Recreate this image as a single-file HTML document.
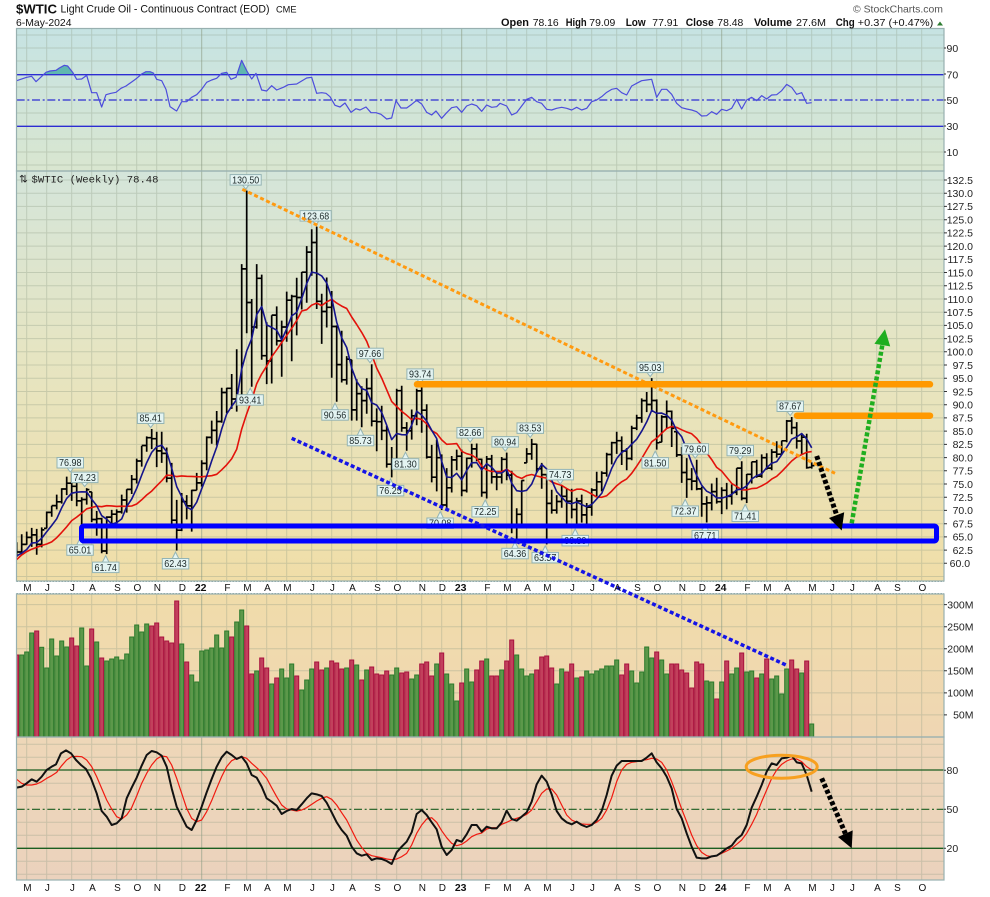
<!DOCTYPE html>
<html><head><meta charset="utf-8"><title>$WTIC Light Crude Oil</title>
<style>
html,body{margin:0;padding:0;background:#fff;width:990px;height:897px;overflow:hidden}
svg{display:block;font-family:"Liberation Sans","DejaVu Sans",sans-serif}
</style></head><body>
<svg id="c" xmlns="http://www.w3.org/2000/svg" width="990" height="897" viewBox="0 0 990 897">
<defs>
<linearGradient id="gR" x1="0" y1="0" x2="0" y2="1"><stop offset="0" stop-color="#c6e3e3"/><stop offset="1" stop-color="#d9e6d0"/></linearGradient>
<linearGradient id="gP" x1="0" y1="0" x2="0" y2="1"><stop offset="0" stop-color="#d4e5da"/><stop offset="0.45" stop-color="#e6e5c2"/><stop offset="1" stop-color="#f0dea8"/></linearGradient>
<linearGradient id="gV" x1="0" y1="0" x2="0" y2="1"><stop offset="0" stop-color="#f0dcaa"/><stop offset="1" stop-color="#efd6b3"/></linearGradient>
<linearGradient id="gS" x1="0" y1="0" x2="0" y2="1"><stop offset="0" stop-color="#eed7b8"/><stop offset="1" stop-color="#ebd2bd"/></linearGradient>
<clipPath id="cP"><rect x="16.5" y="171" width="927.5" height="410"/></clipPath>
<clipPath id="cV"><rect x="16.5" y="594" width="927.5" height="143"/></clipPath>
<clipPath id="cF"><rect x="0" y="0" width="3000" height="224"/></clipPath>
</defs>

<!-- panel backgrounds -->
<rect x="16.5" y="28.5" width="927.5" height="142.5" fill="url(#gR)"/>
<rect x="16.5" y="171" width="927.5" height="410" fill="url(#gP)"/>
<rect x="16.5" y="594" width="927.5" height="143" fill="url(#gV)"/>
<rect x="16.5" y="737" width="927.5" height="143" fill="url(#gS)"/>

<g id="grid" stroke="#8c9c84" stroke-opacity="0.35" stroke-width="1" fill="none"></g>

<!-- RSI -->
<g transform="scale(0.3333333)">
<path clip-path="url(#cF)" fill="#5fb7b0" d="M50,224 L50,242 80,232 95,229 108,245 138,217 150,213 168,211 178,204 193,196 203,198 218,217 230,238 245,237 260,226 275,278 290,278 305,321 318,284 333,280 348,277 363,265 378,258 395,246 410,235 425,222 438,215 450,215 460,219 470,238 485,242 498,268 510,320 525,330 530,333 545,305 560,305 575,292 590,284 605,268 620,247 635,240 650,235 665,220 680,217 693,238 708,232 725,181 740,212 755,237 768,220 785,270 800,273 L800,224 Z"/>
<line x1="50" y1="224" x2="2832" y2="224" stroke="#2d2dd2" stroke-width="4"/>
<line x1="50" y1="379" x2="2832" y2="379" stroke="#2d2dd2" stroke-width="4"/>
<line x1="50" y1="300" x2="2832" y2="300" stroke="#2d2dd2" stroke-width="3.5" stroke-dasharray="24 8 6 8"/>
<polyline fill="none" stroke="#4d4ddc" stroke-width="3.6" stroke-linejoin="round" points="50,242 80,232 95,229 108,245 138,217 150,213 168,211 178,204 193,196 203,198 218,217 230,238 245,237 260,226 275,278 290,278 305,321 318,284 333,280 348,277 363,265 378,258 395,246 410,235 425,222 438,215 450,215 460,219 470,238 485,242 498,268 510,320 525,330 530,333 545,305 560,305 575,292 590,284 605,268 620,247 635,240 650,235 665,220 680,217 693,238 708,232 725,181 740,212 755,237 768,220 785,270 800,273 815,257 830,270 850,262 865,254 890,252 905,243 920,234 935,232 950,280 965,278 978,280 990,290 1005,316 1020,321 1035,309 1053,337 1068,326 1080,330 1098,321 1113,338 1128,338 1143,343 1160,357 1175,354 1188,302 1203,324 1220,324 1235,313 1250,301 1265,312 1280,337 1295,345 1308,333 1325,355 1340,338 1355,323 1370,320 1385,337 1400,318 1415,312 1430,317 1445,334 1460,315 1475,322 1490,320 1500,310 1520,318 1535,345 1550,338 1565,318 1580,298 1595,292 1610,305 1625,310 1640,328 1655,330 1670,325 1685,322 1700,325 1715,330 1730,322 1745,330 1760,325 1775,305 1790,300 1805,290 1820,277 1835,268 1850,265 1865,278 1880,285 1895,258 1910,250 1925,242 1940,240 1955,238 1970,292 1985,268 2000,268 2015,283 2030,310 2045,323 2060,327 2075,330 2090,335 2105,348 2120,347 2135,335 2150,343 2165,328 2180,332 2195,325 2210,298 2225,327 2240,300 2255,292 2270,302 2285,287 2300,297 2315,285 2330,284 2345,272 2360,253 2375,262 2390,283 2405,278 2420,310 2435,308"/>
</g>

<!-- Price -->
<g clip-path="url(#cP)">
<g id="bars"></g>
<g id="ma"></g>
</g>
<g id="callouts"></g>
<text x="19" y="182.5" font-size="10.5" font-family="'DejaVu Sans',sans-serif" fill="#222">⇅</text>
<text x="31.5" y="182.5" font-size="10.5" font-family="'Liberation Mono',monospace" fill="#222" textLength="127" lengthAdjust="spacingAndGlyphs">$WTIC (Weekly) 78.48</text>

<!-- Volume -->
<g id="vol" clip-path="url(#cV)"></g>

<!-- Stochastic -->
<g transform="translate(0,735) scale(0.3333333)">
<line x1="50" y1="105" x2="2832" y2="105" stroke="#1b5e20" stroke-width="4"/>
<line x1="50" y1="340" x2="2832" y2="340" stroke="#1b5e20" stroke-width="4"/>
<line x1="50" y1="223" x2="2832" y2="223" stroke="#1b5e20" stroke-width="3.5" stroke-dasharray="24 8 6 8"/>
<polyline fill="none" stroke="#f01a10" stroke-width="3.6" stroke-linejoin="round" points="50,133 65,145 80,150 95,150 110,147 125,140 140,130 155,122 170,112 185,92 200,75 215,65 230,64 245,65 260,75 275,95 290,125 305,160 320,195 335,222 350,245 365,252 380,240 395,218 410,183 425,145 440,115 455,90 470,72 485,63 500,65 515,90 530,130 545,175 560,220 575,250 590,260 605,255 620,230 635,197 650,160 665,125 680,95 695,77 710,70 725,65 740,70 755,85 770,98 785,112 800,130 815,158 830,185 845,210 860,222 875,225 890,228 905,225 920,218 935,208 950,198 965,190 980,185 995,193 1010,210 1025,233 1040,255 1055,285 1070,315 1085,337 1100,355 1115,362 1130,365 1145,368 1160,372 1175,374 1190,372 1205,365 1220,355 1235,330 1250,295 1265,270 1280,252 1295,248 1310,262 1325,287 1340,308 1355,325 1370,332 1385,328 1400,318 1415,305 1430,298 1445,294 1460,282 1475,278 1490,278 1505,268 1520,262 1535,255 1550,250 1565,245 1580,238 1595,225 1610,200 1625,175 1640,162 1655,162 1670,180 1685,210 1700,240 1715,255 1730,262 1745,267 1760,268 1775,268 1790,262 1805,250 1820,225 1835,188 1850,140 1865,105 1880,88 1895,82 1910,80 1925,76 1940,74 1955,70 1970,72 1985,82 2000,105 2015,140 2030,180 2045,222 2060,260 2075,300 2090,332 2105,352 2120,362 2135,365 2150,362 2165,355 2180,348 2195,340 2210,328 2225,315 2240,295 2255,268 2270,238 2285,200 2300,165 2315,130 2330,105 2345,88 2360,78 2375,72 2390,72 2405,80 2420,95 2435,105"/>
<polyline fill="none" stroke="#111" stroke-width="6" stroke-linejoin="round" points="50,158 65,155 80,145 95,133 110,140 125,125 140,105 155,95 168,88 183,55 198,46 213,55 228,75 243,90 258,102 273,130 290,175 305,228 320,245 335,270 350,265 365,250 380,190 395,158 410,128 425,92 440,60 455,48 470,52 485,62 500,95 515,160 530,215 545,245 560,275 575,285 590,255 605,215 620,172 635,132 650,95 665,67 680,50 695,60 710,72 725,65 740,85 755,120 770,128 785,155 800,190 815,200 830,212 845,237 860,228 875,222 890,225 905,208 920,190 935,175 950,178 965,183 980,203 995,232 1010,262 1025,285 1040,302 1055,335 1070,355 1085,362 1100,358 1115,375 1130,370 1145,372 1160,378 1175,387 1190,352 1205,335 1220,320 1235,292 1250,237 1265,225 1280,240 1295,262 1310,283 1325,335 1340,360 1355,345 1370,315 1385,320 1400,298 1415,270 1430,270 1445,290 1460,275 1475,280 1490,280 1505,262 1520,227 1535,252 1550,257 1565,245 1580,232 1595,200 1610,148 1625,122 1640,140 1655,178 1670,228 1685,250 1700,262 1715,268 1730,260 1745,270 1760,276 1775,270 1790,255 1805,228 1820,180 1835,122 1850,92 1865,78 1880,78 1895,78 1910,78 1925,78 1940,68 1955,55 1970,82 1985,100 2000,125 2015,160 2030,222 2045,250 2060,295 2075,335 2090,368 2105,370 2120,370 2135,364 2150,362 2165,352 2180,340 2195,332 2210,312 2225,300 2240,270 2255,218 2270,185 2285,150 2300,110 2315,85 2330,90 2345,70 2360,68 2375,62 2390,82 2405,85 2420,120 2435,170"/>
</g>

<!-- x-axis strips -->
<rect x="16.5" y="581" width="927.5" height="13" fill="#fff"/>
<line x1="16.5" y1="581.5" x2="944" y2="581.5" stroke="#8aa4a4" stroke-dasharray="1.5 1.5"/>
<line x1="16.5" y1="593.5" x2="944" y2="593.5" stroke="#8aa4a4" stroke-dasharray="1.5 1.5"/>

<!-- panel borders -->
<g fill="none" stroke="#98b0b0" stroke-width="1.2">
<rect x="16.5" y="28.5" width="927.5" height="142.5"/>
<rect x="16.5" y="171" width="927.5" height="410"/>
<rect x="16.5" y="594" width="927.5" height="143"/>
<rect x="16.5" y="737" width="927.5" height="143"/>
</g>
<g id="ticks" stroke="#333" stroke-width="1"></g>

<!-- annotations -->
<g fill="none">
<line x1="242.3" y1="189.3" x2="835" y2="473.3" stroke="#ff9a10" stroke-width="3" stroke-dasharray="4 2.6"/>
<line x1="417" y1="384.3" x2="930" y2="384.3" stroke="#ff9900" stroke-width="6.5" stroke-linecap="round"/>
<line x1="797" y1="415.7" x2="930" y2="415.7" stroke="#ff9900" stroke-width="6.5" stroke-linecap="round"/>
<rect x="81.5" y="526" width="855" height="15" rx="2" stroke="#0000ff" stroke-width="5"/>
<line x1="291.7" y1="438.3" x2="786" y2="665" stroke="#1414e6" stroke-width="3.5" stroke-dasharray="4 2.5"/>
<line x1="816.7" y1="456" x2="836.6" y2="514.8" stroke="#000" stroke-width="5" stroke-dasharray="4 2.3"/>
<line x1="851.7" y1="523.3" x2="882.3" y2="345.1" stroke="#1fae1f" stroke-width="4.5" stroke-dasharray="4 2.3"/>
<line x1="821.7" y1="778.3" x2="845.4" y2="833.6" stroke="#000" stroke-width="5" stroke-dasharray="4 2.3"/>
<ellipse cx="781.7" cy="766.7" rx="35.5" ry="11.5" stroke="#f7a020" stroke-width="3"/>
</g>
<polygon points="829,518 844.2,512.3 841.7,530.5" fill="#000"/>
<polygon points="874.4,343.7 890.2,346.4 885,329.3" fill="#1fae1f"/>
<polygon points="838,837 852.7,830.4 851.7,848.3" fill="#000"/>

<!-- header -->
<text x="16" y="13.5" font-size="13" font-weight="bold" fill="#111" textLength="41" lengthAdjust="spacingAndGlyphs">$WTIC</text>
<text x="60.5" y="12.7" font-size="11" fill="#111" textLength="209" lengthAdjust="spacingAndGlyphs">Light Crude Oil - Continuous Contract (EOD)</text>
<text x="276" y="12.7" font-size="9" fill="#111" textLength="20.5" lengthAdjust="spacingAndGlyphs">CME</text>
<text x="16" y="26" font-size="10.5" fill="#111" textLength="55.5" lengthAdjust="spacingAndGlyphs">6-May-2024</text>
<text x="853" y="12.7" font-size="10.5" fill="#555" textLength="90" lengthAdjust="spacingAndGlyphs">© StockCharts.com</text>
<g font-size="10.5" fill="#111">
<text x="501" y="26" font-weight="bold" font-size="11" textLength="28" lengthAdjust="spacingAndGlyphs">Open</text>
<text x="532.7" y="26" textLength="26" lengthAdjust="spacingAndGlyphs">78.16</text>
<text x="565.7" y="26" font-weight="bold" font-size="11" textLength="21" lengthAdjust="spacingAndGlyphs">High</text>
<text x="589.3" y="26" textLength="26" lengthAdjust="spacingAndGlyphs">79.09</text>
<text x="625.7" y="26" font-weight="bold" font-size="11" textLength="20" lengthAdjust="spacingAndGlyphs">Low</text>
<text x="652.3" y="26" textLength="26" lengthAdjust="spacingAndGlyphs">77.91</text>
<text x="685.7" y="26" font-weight="bold" font-size="11" textLength="28" lengthAdjust="spacingAndGlyphs">Close</text>
<text x="717.3" y="26" textLength="26" lengthAdjust="spacingAndGlyphs">78.48</text>
<text x="754" y="26" font-weight="bold" font-size="11" textLength="38" lengthAdjust="spacingAndGlyphs">Volume</text>
<text x="796" y="26" textLength="30" lengthAdjust="spacingAndGlyphs">27.6M</text>
<text x="835.7" y="26" font-weight="bold" font-size="11" textLength="19" lengthAdjust="spacingAndGlyphs">Chg</text>
<text x="857.7" y="26" textLength="75.6" lengthAdjust="spacingAndGlyphs">+0.37 (+0.47%)</text>
</g>
<polygon points="937,25.5 943,25.5 940,21.5" fill="#2e7d32"/>

<!-- right axis labels -->
<g font-size="10.5" fill="#222">
<text x="946.5" y="51.8">90</text><text x="946.5" y="78.5">70</text><text x="946.5" y="103.8">50</text><text x="946.5" y="130.1">30</text><text x="946.5" y="155.8">10</text>
<text x="946.5" y="774.1">80</text><text x="946.5" y="813.1">50</text><text x="946.5" y="852.1">20</text>
</g>
<text font-size="10.5" fill="#222" text-anchor="end">
<tspan x="973" y="183.8">132.5</tspan><tspan x="973" y="197.0">130.0</tspan><tspan x="973" y="210.2">127.5</tspan><tspan x="973" y="223.5">125.0</tspan><tspan x="973" y="236.7">122.5</tspan><tspan x="973" y="249.9">120.0</tspan><tspan x="973" y="263.1">117.5</tspan><tspan x="973" y="276.3">115.0</tspan><tspan x="973" y="289.5">112.5</tspan><tspan x="973" y="302.8">110.0</tspan><tspan x="973" y="316.0">107.5</tspan><tspan x="973" y="329.2">105.0</tspan><tspan x="973" y="342.4">102.5</tspan><tspan x="973" y="355.6">100.0</tspan><tspan x="973" y="368.8">97.5</tspan><tspan x="973" y="382.0">95.0</tspan><tspan x="973" y="395.3">92.5</tspan><tspan x="973" y="408.5">90.0</tspan><tspan x="973" y="421.7">87.5</tspan><tspan x="973" y="434.9">85.0</tspan><tspan x="973" y="448.1">82.5</tspan><tspan x="973" y="461.4">80.0</tspan><tspan x="973" y="474.6">77.5</tspan><tspan x="973" y="487.8">75.0</tspan><tspan x="973" y="501.0">72.5</tspan><tspan x="973" y="514.2">70.0</tspan><tspan x="973" y="527.4">67.5</tspan><tspan x="973" y="540.7">65.0</tspan><tspan x="973" y="553.9">62.5</tspan><tspan x="973" y="567.1">60.0</tspan>
<tspan x="973.5" y="608.4">300M</tspan><tspan x="973.5" y="630.5">250M</tspan><tspan x="973.5" y="652.5">200M</tspan><tspan x="973.5" y="674.6">150M</tspan><tspan x="973.5" y="696.7">100M</tspan><tspan x="973.5" y="718.7">50M</tspan>
</text>

<!-- month labels -->
<text font-size="10" fill="#111" text-anchor="middle"><tspan x="27.4" y="591">M</tspan><tspan x="47.4" y="591">J</tspan><tspan x="72.4" y="591">J</tspan><tspan x="92.4" y="591">A</tspan><tspan x="117.4" y="591">S</tspan><tspan x="137.4" y="591">O</tspan><tspan x="157.4" y="591">N</tspan><tspan x="182.4" y="591">D</tspan><tspan x="200.7" y="591" font-weight="bold" font-size="10.5">22</tspan><tspan x="227.4" y="591">F</tspan><tspan x="247.4" y="591">M</tspan><tspan x="267.4" y="591">A</tspan><tspan x="287.4" y="591">M</tspan><tspan x="312.4" y="591">J</tspan><tspan x="332.4" y="591">J</tspan><tspan x="352.4" y="591">A</tspan><tspan x="377.4" y="591">S</tspan><tspan x="397.4" y="591">O</tspan><tspan x="422.4" y="591">N</tspan><tspan x="442.4" y="591">D</tspan><tspan x="460.7" y="591" font-weight="bold" font-size="10.5">23</tspan><tspan x="487.4" y="591">F</tspan><tspan x="507.4" y="591">M</tspan><tspan x="527.4" y="591">A</tspan><tspan x="547.4" y="591">M</tspan><tspan x="572.4" y="591">J</tspan><tspan x="592.4" y="591">J</tspan><tspan x="617.4" y="591">A</tspan><tspan x="637.4" y="591">S</tspan><tspan x="657.4" y="591">O</tspan><tspan x="682.4" y="591">N</tspan><tspan x="702.4" y="591">D</tspan><tspan x="720.7" y="591" font-weight="bold" font-size="10.5">24</tspan><tspan x="747.4" y="591">F</tspan><tspan x="767.4" y="591">M</tspan><tspan x="787.4" y="591">A</tspan><tspan x="812.4" y="591">M</tspan><tspan x="832.4" y="591">J</tspan><tspan x="852.4" y="591">J</tspan><tspan x="877.4" y="591">A</tspan><tspan x="897.4" y="591">S</tspan><tspan x="922.4" y="591">O</tspan></text>
<text font-size="10" fill="#111" text-anchor="middle"><tspan x="27.4" y="891">M</tspan><tspan x="47.4" y="891">J</tspan><tspan x="72.4" y="891">J</tspan><tspan x="92.4" y="891">A</tspan><tspan x="117.4" y="891">S</tspan><tspan x="137.4" y="891">O</tspan><tspan x="157.4" y="891">N</tspan><tspan x="182.4" y="891">D</tspan><tspan x="200.7" y="891" font-weight="bold" font-size="10.5">22</tspan><tspan x="227.4" y="891">F</tspan><tspan x="247.4" y="891">M</tspan><tspan x="267.4" y="891">A</tspan><tspan x="287.4" y="891">M</tspan><tspan x="312.4" y="891">J</tspan><tspan x="332.4" y="891">J</tspan><tspan x="352.4" y="891">A</tspan><tspan x="377.4" y="891">S</tspan><tspan x="397.4" y="891">O</tspan><tspan x="422.4" y="891">N</tspan><tspan x="442.4" y="891">D</tspan><tspan x="460.7" y="891" font-weight="bold" font-size="10.5">23</tspan><tspan x="487.4" y="891">F</tspan><tspan x="507.4" y="891">M</tspan><tspan x="527.4" y="891">A</tspan><tspan x="547.4" y="891">M</tspan><tspan x="572.4" y="891">J</tspan><tspan x="592.4" y="891">J</tspan><tspan x="617.4" y="891">A</tspan><tspan x="637.4" y="891">S</tspan><tspan x="657.4" y="891">O</tspan><tspan x="682.4" y="891">N</tspan><tspan x="702.4" y="891">D</tspan><tspan x="720.7" y="891" font-weight="bold" font-size="10.5">24</tspan><tspan x="747.4" y="891">F</tspan><tspan x="767.4" y="891">M</tspan><tspan x="787.4" y="891">A</tspan><tspan x="812.4" y="891">M</tspan><tspan x="832.4" y="891">J</tspan><tspan x="852.4" y="891">J</tspan><tspan x="877.4" y="891">A</tspan><tspan x="897.4" y="891">S</tspan><tspan x="922.4" y="891">O</tspan></text>
</svg>
<script>
(function(){
var NS='http://www.w3.org/2000/svg';
function el(t,a,p){var e=document.createElementNS(NS,t);for(var k in a)e.setAttribute(k,a[k]);p.appendChild(e);return e;}
function $(id){return document.getElementById(id);}
function X(i){return 16.7+5*i;}
function PY(p){return 180+(132.5-p)*5.287;}
function f(v){return v.toFixed(1);}
/* grid */
var M=[2,6,11,15,20,24,28,33,37,42,46,50,54,59,63,67,72,76,81,85,89,94,98,102,106,111,115,120,124,128,133,137,141,146,150,154,159,163,167,172,176,181];
var YR=[37,89,141];
var d='',dy='';
var panels=[[28.5,171],[171,581],[594,737],[737,880]];
M.forEach(function(i){var x=f(X(i));panels.forEach(function(p){var s='M'+x+','+p[0]+'V'+p[1];if(YR.indexOf(i)>=0)dy+=s;else d+=s;});});
for(var p=57.5;p<=132.6;p+=2.5)d+='M16.5,'+f(PY(p))+'H944';
for(var v=0;v<=100;v+=10){if(v!=30&&v!=50&&v!=70)d+='M16.5,'+f(100-(v-50)*1.3)+'H944';if(v!=20&&v!=50&&v!=80)d+='M16.5,'+f(809.3-(v-50)*1.3)+'H944';}
for(var w=50;w<=300;w+=50)d+='M16.5,'+f(737-w*0.4413)+'H944';
el('path',{d:d},$('grid'));
el('path',{d:dy,'stroke-opacity':'0.65'},$('grid'));
/* ticks */
var td='';
for(var p2=60;p2<=132.6;p2+=2.5)td+='M944,'+f(PY(p2))+'H947';
for(var w2=50;w2<=300;w2+=50)td+='M944,'+f(737-w2*0.4413)+'H947';
[10,30,50,70,90].forEach(function(v){td+='M944,'+f(100-(v-50)*1.3)+'H946';});
[20,50,80].forEach(function(v){td+='M944,'+f(809.3-(v-50)*1.3)+'H946';});
el('path',{d:td},$('ticks'));
/* data */
var pre=[52.20,56.85,59.47,59.24,61.50,66.09,65.61,61.42,60.97,61.45,59.32,63.13];
var C=[62.14,63.58,64.90,65.37,63.58,66.32,69.62,70.91,71.64,74.05,75.16,74.56,71.81,72.07,73.95,68.28,68.44,62.32,68.74,69.29,69.72,71.97,73.98,75.88,79.35,82.28,83.76,83.57,81.27,80.79,76.10,68.15,66.26,71.67,70.86,73.79,75.21,
78.90,83.82,85.14,86.82,92.31,93.10,91.07,91.59,115.68,109.33,104.70,113.90,99.27,98.26,106.95,102.07,104.69,109.77,110.49,110.28,115.07,118.87,120.67,109.56,107.62,108.43,104.79,97.59,94.70,98.62,89.01,92.09,90.77,93.06,86.87,86.79,85.11,78.74,79.49,92.64,85.61,85.05,87.90,92.61,88.96,80.08,76.28,79.98,71.02,74.29,79.56,80.26,
73.77,79.86,81.64,79.68,73.39,79.72,76.34,76.32,79.68,76.68,66.74,69.26,75.67,80.70,82.52,77.87,76.78,71.34,70.04,71.69,72.67,71.74,70.17,71.78,69.16,70.64,73.86,75.42,77.07,80.58,82.82,83.19,81.25,79.83,85.55,87.51,90.77,90.03,90.79,82.79,87.69,88.75,85.54,80.51,77.17,75.89,75.54,74.07,71.23,71.43,73.56,71.65,
73.81,72.68,73.41,78.01,72.28,76.84,79.19,76.49,79.97,78.01,81.04,80.63,83.17,86.91,85.66,83.14,83.85,78.11,78.48];
var H=[64.0,65.5,66.0,66.7,66.5,66.8,69.8,70.9,72.99,74.2,76.4,76.98,75.5,72.5,74.23,73.5,69.9,68.6,68.9,70.1,70.2,73.0,74.0,76.7,79.8,82.2,84.0,85.41,84.9,84.9,81.9,79.0,72.0,73.3,72.9,73.9,77.1,
79.5,84.0,87.0,88.8,93.2,93.2,95.8,100.5,116.6,130.50,110.0,116.6,114.6,105.6,106.9,108.6,105.9,111.4,110.8,114.0,115.1,120.0,123.2,123.68,111.0,114.05,111.5,105.0,104.0,99.2,98.5,94.8,93.5,95.0,97.66,89.3,89.8,86.0,82.0,93.0,93.6,86.7,89.1,93.0,93.74,90.1,82.4,83.4,80.6,78.0,80.3,81.5,
81.5,80.0,82.6,82.66,79.8,80.3,80.5,77.1,80.1,80.94,77.5,70.4,75.7,81.8,83.53,82.6,79.0,76.9,73.9,72.9,74.73,74.1,74.1,72.4,73.0,71.4,74.2,77.3,77.4,80.9,83.0,84.9,84.0,81.8,86.0,88.1,91.2,92.4,95.03,91.0,88.0,90.8,88.9,84.9,82.0,79.9,78.0,79.60,74.5,72.7,75.1,76.2,
74.4,75.2,74.9,78.0,79.29,76.9,79.2,79.6,80.6,80.8,81.6,83.1,83.2,87.1,87.67,86.7,84.5,84.5,79.09];
var L=[61.2,61.6,63.5,63.1,61.6,63.0,66.6,68.8,70.2,71.3,72.9,71.8,70.8,65.01,71.1,67.8,65.2,61.9,61.74,67.2,67.5,69.4,69.6,73.1,75.1,78.3,81.1,81.6,78.2,79.0,75.3,67.4,62.43,66.1,68.3,66.0,73.8,
74.5,77.6,82.6,82.3,86.6,88.4,89.2,88.7,91.1,103.5,93.41,104.4,98.5,93.9,94.0,101.2,95.3,101.9,98.2,103.1,108.0,109.3,114.4,108.1,101.5,104.6,95.1,90.56,94.2,93.8,87.0,87.0,85.73,88.3,85.9,81.2,83.3,78.1,76.25,79.3,84.9,81.30,83.4,86.1,84.7,79.8,75.3,73.6,70.08,70.3,73.4,77.6,
72.7,73.4,78.1,79.3,72.6,72.25,75.1,73.8,75.1,75.7,65.7,64.36,66.8,79.0,79.6,77.1,74.1,63.57,69.4,69.4,70.5,67.0,68.5,66.80,67.7,67.1,69.0,72.7,73.6,76.4,78.7,80.7,78.6,77.6,79.5,85.2,86.6,88.6,88.8,81.50,82.9,85.4,82.0,80.1,75.2,72.37,73.8,73.8,68.8,67.71,70.0,71.3,
69.3,70.2,71.1,72.9,71.9,71.41,75.1,76.2,76.2,77.7,77.6,80.0,80.5,82.9,84.4,81.7,80.7,77.9,77.91];
var N=C.length;
/* price bars */
var bd='';
for(var i=0;i<N;i++){var x=X(i);var o=i==0?63.13:(i==N-1?78.16:C[i-1]);o=Math.min(H[i],Math.max(L[i],o));
bd+='M'+f(x)+','+f(PY(H[i]))+'V'+f(PY(L[i]))+'M'+f(x-2.7)+','+f(PY(o))+'H'+f(x)+'M'+f(x)+','+f(PY(C[i]))+'H'+f(x+2.7);}
el('path',{d:bd,stroke:'#000','stroke-width':'1.7',fill:'none'},$('bars'));
/* moving averages */
var all=pre.concat(C);
function sma(n,i){var s=0;for(var k=0;k<n;k++)s+=all[i+12-k];return s/n;}
var b='',r='';
for(var j=0;j<N;j++){b+=(j?'L':'M')+f(X(j))+','+f(PY(sma(5,j)));r+=(j?'L':'M')+f(X(j))+','+f(PY(sma(13,j)));}
el('path',{d:r,stroke:'#e3120b','stroke-width':'1.6',fill:'none','stroke-linejoin':'round'},$('ma'));
el('path',{d:b,stroke:'#14148c','stroke-width':'1.6',fill:'none','stroke-linejoin':'round'},$('ma'));
/* callouts */
var CL=[[70.3,76.98,'h'],[84.7,74.23,'h'],[80,65.01,'l'],[105.7,61.74,'l'],[150.7,85.41,'h'],[175.5,62.43,'l'],[245.7,130.50,'h'],[250.2,93.41,'l'],[315.7,123.68,'h'],[335,90.56,'l'],[370,97.66,'h'],[360.5,85.73,'l'],[390.5,76.25,'l'],[405.5,81.30,'l'],[420.2,93.74,'h'],[440.2,70.08,'l'],[470.2,82.66,'h'],[485.2,72.25,'l'],[505.2,80.94,'h'],[515,64.36,'l'],[530.2,83.53,'h'],[545.2,63.57,'l'],[560.2,74.73,'h'],[575.2,66.80,'l'],[650.2,95.03,'h'],[655.2,81.50,'l'],[695.2,79.60,'h'],[685.2,72.37,'l'],[705.2,67.71,'l'],[740.2,79.29,'h'],[745.2,71.41,'l'],[790.2,87.67,'h']];
var cg=$('callouts');
CL.forEach(function(c){var x=c[0],v=c[1],t=c[2];var s=v.toFixed(2);var wd=s.length*4.6+3.5;var py=PY(v);var by=t=='h'?py-16:py+8;
var tri=t=='h'?('M'+f(x-3.5)+','+f(by+10)+'L'+f(x)+','+f(py-1.5)+'L'+f(x+3.5)+','+f(by+10)+'Z'):('M'+f(x-3.5)+','+f(by+0.5)+'L'+f(x)+','+f(py+1.5)+'L'+f(x+3.5)+','+f(by+0.5)+'Z');
el('path',{d:tri,fill:'#e4f4f2',stroke:'#94b4b4','stroke-width':'1'},cg);
el('rect',{x:f(x-wd/2),y:f(by),width:f(wd),height:'10.5',fill:'#e4f4f2',stroke:'#94b4b4','stroke-width':'1'},cg);
var te=el('text',{x:f(x),y:f(by+8.7),'text-anchor':'middle','font-size':'10.5',fill:'#1c2828',textLength:f(wd-4),lengthAdjust:'spacingAndGlyphs'},cg);te.textContent=s;});
/* volume */
var V1=[285,285,276,219,213,262,324,237,288,243,261,234,258,204,318,207,246,294,303,297,291,300,282,231,195,216,192,198,189,231,243,249,123,252,306,345,366,273,270,264,225,264,213,231,186,150,198,342,333,294,324,372,354,327,354,312,348,390,360,327,306,330,324,303,309,327,324,300,315,360,330,321,342,345,333,345,324,339,336,357,345,312,306,348,312,279,342,372,423,369,327,366,330,303,297,348,348,330];
var V2=[243,180,225,267,288,282,270,231,228,264,312,267,276,252,294,291,273,282,273,267,258,258,240,285,252,273,309,276,201,234,216,240,282,252,252,270,279,324,246,252,303,306,357,306,243,282,264,219,276,273,294,282,237,297,288,342,267,240,267,279,243,432];
var VC="RGGGRGGGGG"+"GRRGGRGRGG"+"GGGGGGGRRR"+"RRRGRGGGGG"+"GGGRGGRRGR"+"RGRGGGRGGG"+"RRGRRRGRGR"+"GRRRRGGRRG"+"GRRRGRGGGR"+"GGRRGRRG"+"RRGGGGRRRR"+"GGRRGRGGGG"+"GGGRRGGGGG"+"RGGRRRRRRR"+"GGRGRGGRGG"+"RGRGGGGRRG"+"RG";
for(var k=0;k<N;k++){var top=k<98?560+V1[k]/3:580+V2[k-98]/3;var gr=VC.charAt(k)=='G';
el('rect',{x:f(14.7+5*k),y:f(top),width:'4',height:f(737-top),fill:gr?'#5c984a':'#c2405c',stroke:gr?'#2c7a2c':'#a8123e','stroke-width':'1'},$('vol'));}
})();
</script>
</body></html>
